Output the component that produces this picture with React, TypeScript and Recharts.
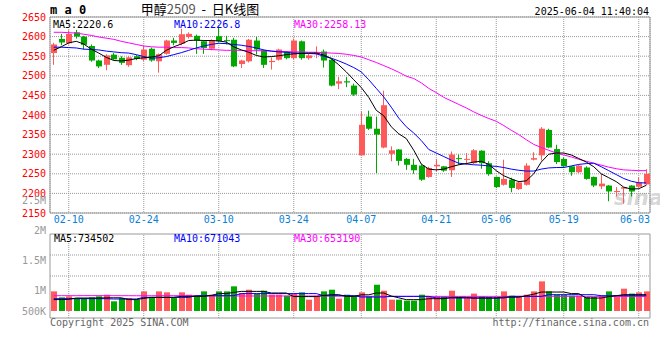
import React from 'react';
import {
  ComposedChart,
  Bar,
  Line,
  XAxis,
  YAxis,
  CartesianGrid,
  ReferenceArea,
  ReferenceLine,
} from 'recharts';

// trading days shown on the chart (MM-DD, 2025)
const dates = [
  '02-06', '02-07', '02-10', '02-11', '02-12', '02-13', '02-14', '02-17', '02-18', '02-19',
  '02-20', '02-21', '02-24', '02-25', '02-26', '02-27', '02-28', '03-03', '03-04', '03-05',
  '03-06', '03-07', '03-10', '03-11', '03-12', '03-13', '03-14', '03-17', '03-18', '03-19',
  '03-20', '03-21', '03-24', '03-25', '03-26', '03-27', '03-28', '03-31', '04-01', '04-02',
  '04-03', '04-07', '04-08', '04-09', '04-10', '04-11', '04-14', '04-15', '04-16', '04-17',
  '04-18', '04-21', '04-22', '04-23', '04-24', '04-25', '04-28', '04-29', '04-30', '05-06',
  '05-07', '05-08', '05-09', '05-12', '05-13', '05-14', '05-15', '05-16', '05-19', '05-20',
  '05-21', '05-22', '05-23', '05-26', '05-27', '05-28', '05-29', '05-30', '06-03', '06-04',
];

const tickDates = ['02-10', '02-24', '03-10', '03-24', '04-07', '04-21', '05-06', '05-19', '06-03'];
const priceTicks = [2150, 2200, 2250, 2300, 2350, 2400, 2450, 2500, 2550, 2600, 2650];
const volTicks = [500000, 1000000, 1500000, 2000000, 2500000];

const open = [
  2558, 2594, 2583, 2611, 2600, 2576, 2539, 2528, 2554, 2546,
  2527, 2550, 2541, 2569, 2537, 2556, 2590, 2582, 2599, 2602,
  2588, 2569, 2601, 2591, 2592, 2530, 2537, 2590, 2565, 2535,
  2541, 2561, 2545, 2588, 2545, 2556, 2562, 2541, 2480, 2486,
  2475, 2297, 2396, 2365, 2317, 2301, 2312, 2288, 2273, 2271,
  2242, 2269, 2269, 2259, 2290, 2287, 2277, 2309, 2277, 2242,
  2222, 2235, 2211, 2222, 2286, 2297, 2362, 2313, 2288, 2269,
  2254, 2266, 2242, 2218, 2220, 2205, 2212, 2220, 2217, 2223,
];
const close = [
  2580, 2585, 2607, 2600, 2579, 2539, 2524, 2552, 2542, 2533,
  2547, 2543, 2567, 2539, 2555, 2590, 2584, 2606, 2607, 2590,
  2571, 2590, 2588, 2590, 2524, 2539, 2592, 2567, 2528, 2538,
  2567, 2545, 2590, 2545, 2552, 2560, 2539, 2475, 2486, 2483,
  2452, 2375, 2365, 2350, 2425, 2310, 2283, 2273, 2259, 2235,
  2265, 2273, 2258, 2299, 2288, 2288, 2310, 2277, 2249, 2216,
  2237, 2214, 2228, 2271, 2290, 2365, 2317, 2280, 2269, 2254,
  2271, 2237, 2220, 2225, 2205, 2206, 2216, 2205, 2228, 2250,
];
const high = [
  2584, 2607, 2616, 2617, 2602, 2580, 2541, 2555, 2558, 2550,
  2550, 2553, 2577, 2572, 2557, 2592, 2597, 2620, 2611, 2605,
  2590, 2593, 2626, 2602, 2597, 2541, 2594, 2599, 2567, 2547,
  2569, 2563, 2595, 2590, 2556, 2575, 2567, 2543, 2497, 2497,
  2480, 2409, 2411, 2396, 2462, 2320, 2313, 2290, 2288, 2274,
  2268, 2288, 2270, 2307, 2299, 2303, 2313, 2310, 2282, 2243,
  2286, 2240, 2232, 2277, 2305, 2369, 2365, 2324, 2292, 2270,
  2273, 2269, 2243, 2250, 2221, 2216, 2216, 2221, 2241, 2262,
];
const low = [
  2528, 2578, 2580, 2595, 2567, 2536, 2520, 2514, 2540, 2528,
  2523, 2540, 2538, 2536, 2508, 2554, 2578, 2578, 2595, 2556,
  2556, 2565, 2585, 2580, 2522, 2520, 2534, 2554, 2520, 2516,
  2539, 2542, 2542, 2541, 2541, 2545, 2521, 2473, 2466, 2471,
  2449, 2297, 2362, 2252, 2315, 2282, 2271, 2260, 2250, 2232,
  2240, 2256, 2255, 2242, 2273, 2273, 2275, 2263, 2245, 2214,
  2220, 2203, 2209, 2220, 2284, 2284, 2315, 2275, 2265, 2245,
  2252, 2235, 2216, 2211, 2180, 2192, 2174, 2192, 2215, 2221,
];

const ma5 = [
  2565, 2574, 2584, 2588, 2581, 2568, 2558, 2547, 2539, 2538,
  2540, 2544, 2546, 2548, 2551, 2565, 2574, 2581, 2590, 2591,
  2590, 2590, 2589, 2586, 2574, 2566, 2560, 2552, 2548, 2549,
  2551, 2554, 2556, 2557, 2558, 2558, 2553, 2544, 2528, 2510,
  2490, 2470, 2445, 2412, 2398, 2370, 2352, 2340, 2310, 2275,
  2262, 2260, 2262, 2268, 2273, 2276, 2280, 2282, 2274, 2258,
  2245, 2237, 2230, 2232, 2250, 2280, 2300, 2303, 2303, 2298,
  2289, 2280, 2268, 2250, 2240, 2230, 2216, 2211, 2212, 2220.6,
];
const ma10 = [
  2573, 2573, 2572, 2571, 2568, 2567, 2566, 2563, 2561, 2559,
  2558, 2554, 2549, 2545, 2546, 2549, 2554, 2559, 2565, 2571,
  2576, 2580, 2583, 2582, 2580, 2578, 2575, 2571, 2566, 2563,
  2561, 2560, 2558, 2558, 2557, 2556, 2550, 2545, 2538, 2530,
  2521, 2510, 2490, 2468, 2446, 2420, 2392, 2370, 2354, 2335,
  2312, 2303, 2294, 2285, 2277, 2275, 2273, 2272, 2270, 2269,
  2266, 2262, 2259, 2257, 2257, 2262, 2265, 2266, 2266, 2270,
  2274, 2276, 2277, 2268, 2258, 2248, 2238, 2231, 2227, 2226.8,
];
const ma30 = [
  2611, 2611, 2610, 2609, 2606, 2603, 2599, 2596, 2593, 2588,
  2584, 2580, 2576, 2574, 2573, 2573, 2572, 2572, 2571, 2569,
  2568, 2567, 2566, 2565, 2565, 2565, 2564, 2564, 2564, 2563,
  2562, 2562, 2561, 2561, 2560, 2560, 2559, 2558, 2557, 2555,
  2552, 2548, 2541, 2534, 2526, 2518, 2509, 2499, 2493, 2482,
  2468, 2457, 2445, 2436, 2427, 2418, 2408, 2399, 2391, 2384,
  2373, 2361, 2350, 2337, 2325, 2317, 2310, 2303, 2298, 2293,
  2287, 2282, 2277, 2272, 2267, 2263, 2260, 2259, 2258, 2258.13,
];

// volume, thousands of lots
const volume = [
  977, 877, 894, 866, 866, 877, 894, 922, 811, 866,
  866, 839, 977, 866, 977, 961, 866, 961, 922, 894,
  977, 922, 977, 977, 1061, 950, 1005, 940, 988, 922,
  922, 905, 940, 961, 839, 905, 977, 1005, 855, 922,
  905, 961, 894, 1088, 988, 839, 839, 822, 822, 922,
  894, 894, 894, 988, 883, 866, 940, 894, 883, 883,
  977, 905, 894, 922, 977, 1144, 977, 922, 922, 905,
  905, 883, 883, 905, 977, 894, 1022, 940, 961, 977,
];
const vma5 = [
  840, 840, 845, 866, 866, 866, 866, 870, 870, 870,
  840, 840, 860, 877, 877, 877, 877, 894, 894, 894,
  894, 910, 940, 940, 960, 977, 977, 977, 977, 950,
  950, 950, 890, 890, 890, 890, 910, 922, 922, 894,
  894, 920, 920, 950, 950, 900, 870, 839, 839, 839,
  855, 855, 855, 877, 877, 877, 866, 866, 866, 866,
  880, 880, 880, 905, 930, 966, 966, 966, 966, 940,
  940, 866, 866, 866, 890, 905, 922, 922, 922, 922,
];
const vma10 = [
  855, 855, 855, 855, 855, 855, 855, 855, 850, 850,
  850, 850, 877, 877, 877, 877, 877, 877, 877, 905,
  905, 905, 905, 905, 905, 940, 940, 940, 940, 940,
  940, 940, 940, 940, 940, 940, 905, 905, 905, 905,
  905, 883, 883, 883, 883, 894, 894, 894, 894, 894,
  894, 866, 866, 866, 866, 866, 866, 866, 866, 866,
  866, 894, 894, 894, 894, 894, 922, 922, 922, 922,
  922, 922, 922, 905, 905, 905, 905, 905, 905, 905,
];
const vma30 = [
  905, 905, 905, 905, 906, 906, 906, 905, 905, 905,
  905, 904, 904, 904, 905, 905, 905, 905, 904, 904,
  902, 902, 901, 901, 901, 900, 900, 900, 900, 900,
  900, 900, 900, 900, 900, 900, 900, 899, 899, 898,
  898, 896, 895, 895, 895, 894, 894, 894, 894, 894,
  894, 894, 894, 894, 894, 894, 894, 894, 894, 894,
  894, 894, 894, 894, 894, 895, 895, 895, 895, 895,
  895, 894, 894, 894, 894, 894, 894, 894, 894, 894,
];

const UP = '#ff5a5a';
const DOWN = '#00a800';
const GRID = '#999';
const BORDER = '#999';
const FONT = '"DejaVu Sans Mono", monospace';
const PLOT_RIGHT = 650;

// volume panel frame, in volume units (the axis labels run past the panel)
const VOL_BASE = 650000;
const PANEL_MIN = 533333;
const PANEL_MAX = 1933333;
const VOL_GRID = [1233333, 1583333];

const rows = dates.map((d, i) => ({
  x: i + 0.5,
  d,
  o: open[i],
  c: close[i],
  h: high[i],
  l: low[i],
  ma5: ma5[i],
  ma10: ma10[i],
  ma30: ma30[i],
  vol: volume[i] * 1000,
  vma5: vma5[i] * 1000,
  vma10: vma10[i] * 1000,
  vma30: vma30[i] * 1000,
}));

const dateTicks = tickDates.map((t) => dates.indexOf(t) + 0.5);

const Candle = (props: any) => {
  const { x, y, width, height, payload } = props;
  const { o, c, h, l } = payload;
  const color = c >= o ? UP : DOWN;
  const top = Math.min(y, y + height);
  const span = Math.abs(height);
  const py = (v: number) => (h === l ? top : top + ((h - v) / (h - l)) * span);
  const bx = Math.round(x);
  const w = Math.round(width);
  const b1 = py(Math.max(o, c));
  const b2 = py(Math.min(o, c));
  return (
    <g>
      <line x1={bx + 2.5} x2={bx + 2.5} y1={top} y2={top + span} stroke={color} strokeWidth={1} />
      <rect x={bx} y={b1} width={w} height={Math.max(1, b2 - b1)} fill={color} />
    </g>
  );
};

const VolBar = (props: any) => {
  const { x, y, width, height, payload } = props;
  const top = Math.min(y, y + height);
  return (
    <rect
      x={Math.round(x)}
      y={top}
      width={Math.round(width)}
      height={Math.abs(height)}
      fill={payload.c >= payload.o ? UP : DOWN}
    />
  );
};

const DateTick = (props: any) => {
  const { x, y, payload } = props;
  const label = dates[Math.floor(payload.value)];
  const cx = Math.min(x, PLOT_RIGHT - 15);
  return (
    <text x={cx} y={y} dy="0.71em" textAnchor="middle" fill="#0a7fd5" fontSize={10} fontFamily={FONT}>
      {label}
    </text>
  );
};

const VolTick = (props: any) => {
  const { x, y, payload } = props;
  const v = payload.value;
  const label = v >= 1000000 ? `${v / 1000000}M` : `${v / 1000}K`;
  // the lowest label is pulled up inside the panel
  return (
    <text x={x} y={Math.min(y, 121)} dy="0.355em" textAnchor="end" fill="#999" fontSize={10} fontFamily={FONT}>
      {label}
    </text>
  );
};

const txt = (extra: React.CSSProperties): React.CSSProperties => ({
  position: 'absolute',
  fontFamily: FONT,
  fontSize: 10,
  lineHeight: '12px',
  whiteSpace: 'nowrap',
  ...extra,
});

export default function App() {
  return (
    <div style={{ position: 'fixed', left: 0, top: 0, width: 660, height: 360, background: '#fff', overflow: 'hidden' }}>
      <div
        style={txt({
          left: 614,
          top: 186,
          fontFamily: '"DejaVu Sans", sans-serif',
          fontSize: 21,
          lineHeight: '24px',
          fontStyle: 'italic',
          fontWeight: 'bold',
          color: 'rgba(150,150,150,0.4)',
        })}
      >
        sina
      </div>

      <div style={{ position: 'absolute', left: 0, top: 0 }}>
        <ComposedChart width={660} height={240} data={rows} margin={{ top: 17, right: 10, bottom: 7, left: 0 }}>
          <CartesianGrid stroke={GRID} strokeDasharray="1 1" />
          <XAxis
            dataKey="x"
            type="number"
            domain={[0, 80]}
            ticks={dateTicks}
            interval={0}
            tick={<DateTick />}
            tickLine={false}
            axisLine={false}
            tickSize={0}
            tickMargin={3}
            height={20}
          />
          <YAxis
            type="number"
            domain={[2150, 2650]}
            ticks={priceTicks}
            interval={0}
            tick={{ fill: '#f00', fontSize: 10, fontFamily: FONT }}
            tickLine={false}
            axisLine={false}
            tickSize={0}
            tickMargin={4}
            width={50}
          />
          <ReferenceArea x1={0} x2={80} y1={2150} y2={2650} fill="none" fillOpacity={0} stroke={BORDER} strokeWidth={1} />
          <Bar dataKey={(r: any) => [r.l, r.h]} barSize={6} shape={<Candle />} isAnimationActive={false} />
          <Line dataKey="ma30" stroke="#ff00ff" strokeWidth={1} dot={false} isAnimationActive={false} />
          <Line dataKey="ma10" stroke="#0000ff" strokeWidth={1} dot={false} isAnimationActive={false} />
          <Line dataKey="ma5" stroke="#000" strokeWidth={1} dot={false} isAnimationActive={false} />
        </ComposedChart>
      </div>

      <div style={{ position: 'absolute', left: 0, top: 190 }}>
        <ComposedChart width={660} height={140} data={rows} margin={{ top: 10, right: 10, bottom: 10, left: 0 }}>
          <XAxis dataKey="x" type="number" domain={[0, 80]} hide />
          <YAxis
            type="number"
            domain={[500000, 2500000]}
            ticks={volTicks}
            interval={0}
            tick={<VolTick />}
            tickLine={false}
            axisLine={false}
            tickSize={0}
            tickMargin={4}
            width={50}
          />
          {VOL_GRID.map((v) => (
            <ReferenceLine key={v} y={v} stroke={GRID} strokeDasharray="1 1" />
          ))}
          {dateTicks.map((t) => (
            <ReferenceLine
              key={t}
              segment={[
                { x: t, y: PANEL_MIN },
                { x: t, y: PANEL_MAX },
              ]}
              stroke={GRID}
              strokeDasharray="1 1"
            />
          ))}
          <ReferenceArea x1={0} x2={80} y1={PANEL_MIN} y2={PANEL_MAX} fill="none" fillOpacity={0} stroke={BORDER} strokeWidth={1} />
          <Bar dataKey={(r: any) => [VOL_BASE, r.vol]} barSize={6} shape={<VolBar />} isAnimationActive={false} />
          <Line dataKey="vma30" stroke="#ff00ff" strokeWidth={1} dot={false} isAnimationActive={false} />
          <Line dataKey="vma10" stroke="#0000ff" strokeWidth={1} dot={false} isAnimationActive={false} />
          <Line dataKey="vma5" stroke="#000" strokeWidth={1} dot={false} isAnimationActive={false} />
        </ComposedChart>
      </div>

      <div style={txt({ left: 50, top: 4, fontSize: 12, fontWeight: 'bold', color: '#000' })}>m a 0</div>
      <div
        style={txt({
          left: 120,
          top: 2,
          width: 160,
          textAlign: 'center',
          fontFamily: '"Noto Sans CJK SC", sans-serif',
          fontSize: 13,
          lineHeight: '13px',
          color: '#000',
        })}
      >
        甲醇<span style={{ color: '#555' }}>2509</span>{'\u00a0\u00a0-\u00a0\u00a0'}日K线图
      </div>
      <div style={txt({ left: 0, top: 6, width: 649, textAlign: 'right', color: '#000' })}>2025-06-04 11:40:04</div>

      <div style={txt({ left: 53, top: 19, color: '#000' })}>MA5:2220.6</div>
      <div style={txt({ left: 174, top: 19, color: '#0000ff' })}>MA10:2226.8</div>
      <div style={txt({ left: 294, top: 19, color: '#ff00ff' })}>MA30:2258.13</div>

      <div style={txt({ left: 54, top: 233, color: '#000' })}>MA5:734502</div>
      <div style={txt({ left: 174, top: 233, color: '#0000ff' })}>MA10:671043</div>
      <div style={txt({ left: 294, top: 233, color: '#ff00ff' })}>MA30:653190</div>

      <div style={txt({ left: 50, top: 317, color: '#666' })}>Copyright 2025 SINA.COM</div>
      <div style={txt({ left: 0, top: 317, width: 649, textAlign: 'right', color: '#666' })}>http://finance.sina.com.cn</div>
    </div>
  );
}
